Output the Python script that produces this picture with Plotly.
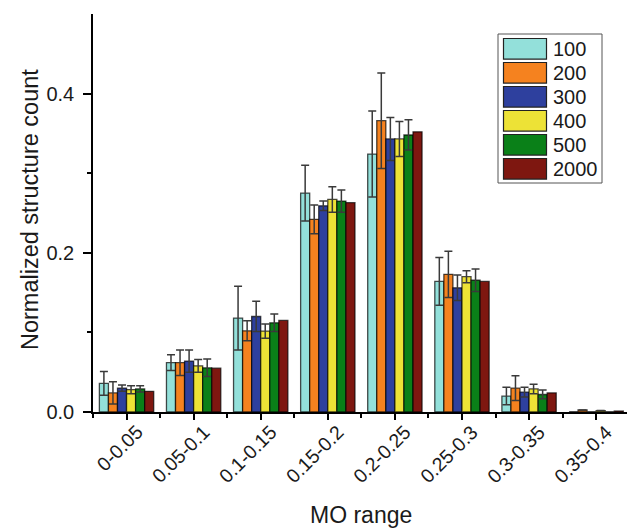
import plotly.graph_objects as go

categories = ["0-0.05", "0.05-0.1", "0.1-0.15", "0.15-0.2", "0.2-0.25", "0.25-0.3", "0.3-0.35", "0.35-0.4"]
series_names = ["100", "200", "300", "400", "500", "2000"]
series_colors = ["#93E0DA", "#F5821F", "#2E409E", "#EDE236", "#0A8018", "#7E1710"]

v100 = [0.036, 0.062, 0.118, 0.275, 0.324, 0.164, 0.020, 0.0]
e100 = [0.015, 0.010, 0.040, 0.035, 0.054, 0.030, 0.011, None]
v200 = [0.024, 0.062, 0.102, 0.242, 0.366, 0.173, 0.030, 0.0025]
e200 = [0.014, 0.016, 0.0125, 0.018, 0.060, 0.029, 0.0155, None]
v300 = [0.030, 0.064, 0.120, 0.259, 0.343, 0.156, 0.025, 0.0]
e300 = [0.004, 0.014, 0.019, 0.006, 0.027, 0.016, 0.006, None]
v400 = [0.028, 0.058, 0.1015, 0.267, 0.343, 0.170, 0.029, 0.0018]
e400 = [0.005, 0.008, 0.009, 0.016, 0.022, 0.0075, 0.006, None]
v500 = [0.029, 0.0555, 0.112, 0.265, 0.348, 0.1655, 0.022, 0.0]
e500 = [0.004, 0.011, 0.011, 0.014, 0.019, 0.014, 0.0055, None]
v2000 = [0.026, 0.055, 0.115, 0.263, 0.352, 0.164, 0.024, 0.0012]
e2000 = [None] * 8

values = [v100, v200, v300, v400, v500, v2000]
errors = [e100, e200, e300, e400, e500, e2000]

x_pos = list(range(len(categories)))

W, H = 627, 528
ML, MR, MT, MB = 93, 0, 14, 116
PW = W - ML - MR
PH = H - MT - MB
X_RANGE = [-0.5, 7.46]
UNIT_PX = PW / (X_RANGE[1] - X_RANGE[0])

FONT = "Liberation Sans, Arial, Helvetica, sans-serif"

fig = go.Figure()
for name, col, vals, errs in zip(series_names, series_colors, values, errors):
    has_err = any(e is not None for e in errs)
    fig.add_trace(go.Bar(
        x=x_pos, y=vals, name=name,
        marker=dict(color=col, line=dict(color="rgba(0,0,0,0.7)", width=1.3)),
        error_y=dict(type="data", array=errs, visible=has_err, color="#3a3a3a",
                     thickness=1.5, width=4),
        showlegend=False,
    ))

def px_x(px):
    return (px - ML) / PW

def px_y(py):
    return (H - MB - py) / PH

shapes = []
annotations = []
box_l, box_r, box_t, box_b = 498, 602, 34, 183
shapes.append(dict(type="rect", xref="paper", yref="paper",
                   x0=px_x(box_l), x1=px_x(box_r), y0=px_y(box_b), y1=px_y(box_t),
                   line=dict(color="#555555", width=1), fillcolor="white"))
row0, row_step = 48.8, 24.0
for i, (name, col) in enumerate(zip(series_names, series_colors)):
    cy = row0 + i * row_step
    shapes.append(dict(type="rect", xref="paper", yref="paper",
                       x0=px_x(503.5), x1=px_x(546.5), y0=px_y(cy + 10.3), y1=px_y(cy - 10.3),
                       line=dict(color="#222222", width=1.2), fillcolor=col))
    annotations.append(dict(xref="paper", yref="paper", x=px_x(551), y=px_y(cy),
                            text=name, showarrow=False, xanchor="left", yanchor="middle",
                            font=dict(family=FONT, size=20, color="#1a1a1a")))

# rotated category labels, anchored by their top-right corner
label_shift_px = 23
for xp, lab in zip(x_pos, categories):
    annotations.append(dict(xref="x", yref="paper", x=xp + label_shift_px / UNIT_PX, y=px_y(418),
                            text=lab, showarrow=False, textangle=-45,
                            xanchor="right", yanchor="top",
                            font=dict(family=FONT, size=19.5, color="#1a1a1a")))

annotations.append(dict(xref="paper", yref="paper", x=px_x(361), y=px_y(515),
                        text="MO range", showarrow=False, xanchor="center", yanchor="middle",
                        font=dict(family=FONT, size=23, color="#1a1a1a")))
annotations.append(dict(xref="paper", yref="paper", x=px_x(30), y=px_y(210),
                        text="Normalized structure count", showarrow=False, textangle=-90,
                        xanchor="center", yanchor="middle",
                        font=dict(family=FONT, size=23.5, color="#1a1a1a")))

shapes.append(dict(type="line", xref="paper", yref="paper", x0=px_x(85), x1=0, y0=0, y1=0,
                   line=dict(color="black", width=1.5)))

fig.update_layout(
    width=W, height=H,
    margin=dict(l=ML, r=MR, t=MT, b=MB),
    paper_bgcolor="white", plot_bgcolor="white",
    barmode="group", bargap=0.19, bargroupgap=0,
    font=dict(family=FONT, size=19, color="#1a1a1a"),
    shapes=shapes, annotations=annotations,
    showlegend=False,
)
fig.update_xaxes(
    range=X_RANGE, tickvals=x_pos, showticklabels=False,
    showline=True, linecolor="black", linewidth=1.5,
    ticks="outside", ticklen=6, tickwidth=1.5, tickcolor="black",
    minor=dict(tick0=0.5, dtick=1, ticks="outside", ticklen=4, tickwidth=1.5, tickcolor="black"),
    showgrid=False, zeroline=False, automargin=False,
)
fig.update_yaxes(
    range=[0, 0.5], tickvals=[0, 0.2, 0.4], ticktext=["0.0", "0.2", "0.4"],
    showline=True, linecolor="black", linewidth=1.5,
    ticks="outside", ticklen=8, tickwidth=1.5, tickcolor="black",
    minor=dict(tickvals=[0.1, 0.3], ticks="outside", ticklen=4, tickwidth=1.5, tickcolor="black"),
    showgrid=False, zeroline=False, automargin=False,
    tickfont=dict(size=20), ticklabelstandoff=5,
)

fig.write_html("out.html", config={"displayModeBar": False},
               post_script="document.body.style.margin='0';document.body.style.padding='0';")
